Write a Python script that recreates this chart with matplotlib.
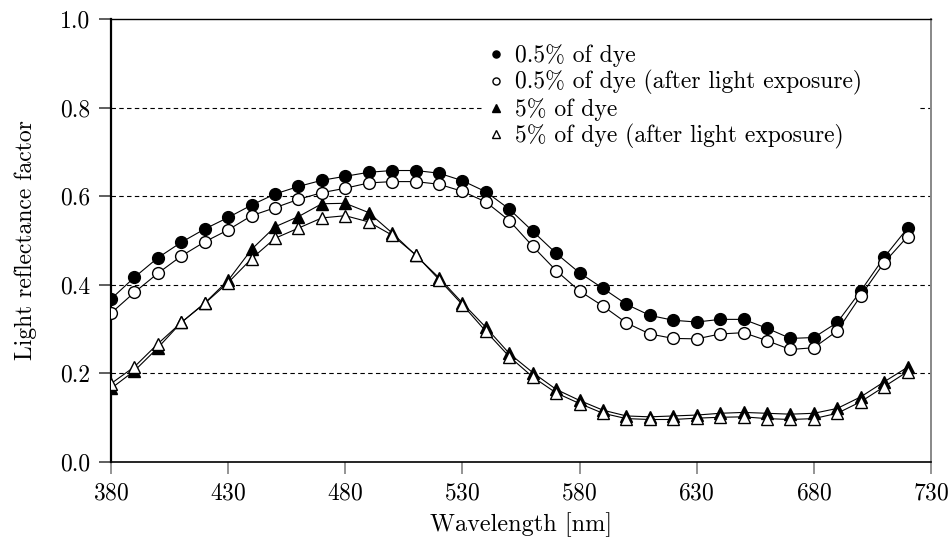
import numpy as np
import matplotlib
matplotlib.use("Agg")
import matplotlib.pyplot as plt

plt.rcParams['font.family'] = ['cmr10', 'DejaVu Serif']
plt.rcParams['mathtext.fontset'] = 'cm'
plt.rcParams['axes.formatter.use_mathtext'] = True

wavelength = list(range(380, 730, 10))

# 0.5% of dye
dye_05 = [0.368, 0.417, 0.461, 0.496, 0.526, 0.552, 0.580, 0.605, 0.622, 0.636,
          0.645, 0.654, 0.658, 0.658, 0.652, 0.635, 0.610, 0.571, 0.521, 0.471,
          0.427, 0.392, 0.356, 0.331, 0.320, 0.316, 0.322, 0.322, 0.302, 0.279,
          0.281, 0.315, 0.386, 0.462, 0.528]
# 0.5% of dye after light exposure
dye_05_exp = [0.336, 0.383, 0.426, 0.465, 0.497, 0.524, 0.556, 0.574, 0.593, 0.608,
              0.618, 0.630, 0.633, 0.633, 0.627, 0.611, 0.587, 0.545, 0.487, 0.432,
              0.386, 0.352, 0.314, 0.289, 0.279, 0.278, 0.289, 0.292, 0.274, 0.254,
              0.258, 0.296, 0.375, 0.450, 0.509]
# 5% of dye
dye_5 = [0.166, 0.206, 0.258, 0.315, 0.359, 0.410, 0.480, 0.531, 0.554, 0.583,
         0.584, 0.563, 0.517, 0.467, 0.416, 0.359, 0.304, 0.245, 0.202, 0.164,
         0.139, 0.117, 0.104, 0.102, 0.104, 0.106, 0.110, 0.112, 0.110, 0.108,
         0.110, 0.121, 0.147, 0.181, 0.214]
# 5% of dye after light exposure
dye_5_exp = [0.177, 0.215, 0.267, 0.315, 0.358, 0.405, 0.459, 0.505, 0.528, 0.551,
             0.556, 0.542, 0.512, 0.468, 0.412, 0.355, 0.295, 0.238, 0.192, 0.156,
             0.132, 0.110, 0.098, 0.096, 0.096, 0.099, 0.101, 0.102, 0.098, 0.096,
             0.098, 0.110, 0.136, 0.170, 0.204]

labels = ['0.5% of dye', '0.5% of dye (after light exposure)',
          '5% of dye', '5% of dye (after light exposure)']

fig = plt.figure(figsize=(9.49, 5.40), dpi=100)
ax = fig.add_axes([0.117, 0.1444, 0.864, 0.8204])

ax.plot(wavelength, dye_05, '-o', color='black', lw=0.8, ms=8.5,
        mfc='black', mec='black', mew=1, label=labels[0], zorder=4)
ax.plot(wavelength, dye_05_exp, '-o', color='black', lw=0.8, ms=8.5,
        mfc='white', mec='black', mew=1, label=labels[1], zorder=5)
ax.plot(wavelength, dye_5, '-^', color='black', lw=0.8, ms=8.5,
        mfc='black', mec='black', mew=1, label=labels[2], zorder=4)
ax.plot(wavelength, dye_5_exp, '-^', color='black', lw=0.8, ms=8.5,
        mfc='white', mec='black', mew=1, label=labels[3], zorder=5)

ax.set_xlim(380, 730)
ax.set_ylim(0, 1.0)
ax.set_xticks(np.arange(380, 731, 50))
ax.set_yticks(np.arange(0, 1.01, 0.2))
ax.set_yticklabels(['0.0', '0.2', '0.4', '0.6', '0.8', '1.0'])

for yv in [0.2, 0.4, 0.6, 0.8]:
    ax.axhline(yv, color='black', lw=0.8, ls=(0, (4, 3)), zorder=1)

ax.spines['left'].set_linewidth(1.6)
ax.spines['bottom'].set_linewidth(1.2)
ax.spines['top'].set_linewidth(1.0)
ax.spines['right'].set_linewidth(1.4)
ax.spines['right'].set_color('#888888')

ax.tick_params(axis='both', direction='out', length=8.8, width=1.1, labelsize=17, pad=6)
ax.tick_params(axis='x', color='#777777', pad=5.5)
ax.tick_params(axis='y', color='#333333', pad=6.5)

ax.set_xlabel('Wavelength [nm]', fontsize=17.5, labelpad=6)
ax.set_ylabel('Light reflectance factor', fontsize=17, labelpad=16)

leg = ax.legend(loc='upper left', bbox_to_anchor=(0.438, 0.985, 0.56, 0.0), mode='expand',
                fontsize=17, markerscale=0.6, handlelength=0.6, handletextpad=0.5,
                labelspacing=0.12, borderpad=0.3, frameon=True, fancybox=False,
                framealpha=1.0, edgecolor='none', facecolor='white')
leg.set_zorder(6)
for h in leg.legend_handles:
    h.set_linestyle('none')

fig.savefig('out.png', dpi=100)
